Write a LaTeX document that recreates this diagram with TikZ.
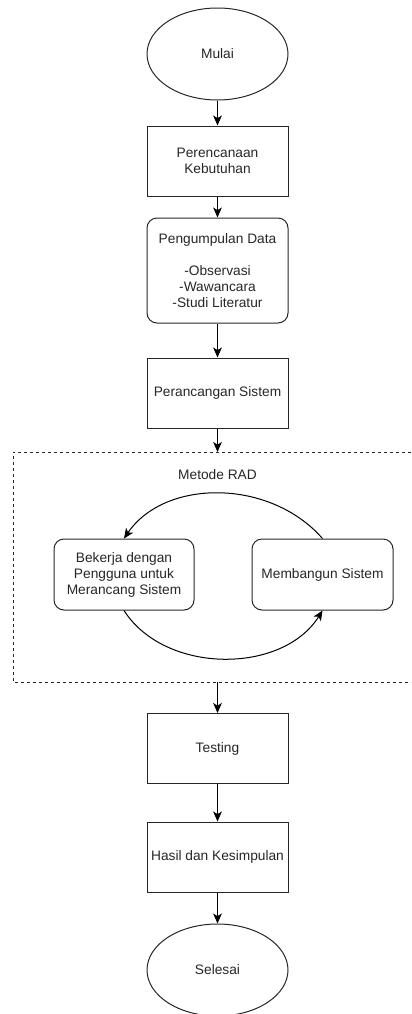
\documentclass[tikz,border=0pt]{standalone}
\usepackage{fontspec}
\setmainfont{Liberation Sans}
\usetikzlibrary{arrows.meta,shapes.geometric}
\begin{document}
\begin{tikzpicture}[x=0.75pt, y=-0.75pt, >={Stealth[length=7.5pt,width=6.5pt,inset=2pt]},
  every node/.style={font=\fontsize{10.3}{12}\selectfont, text=black!85, align=center},
  terminal/.style={draw=black!85, line width=0.75pt, ellipse, minimum width=105.75pt, minimum height=69pt, inner sep=0pt},
  process/.style={draw=black!85, line width=0.75pt, rectangle, minimum width=105.75pt, minimum height=52.5pt, inner sep=0pt},
  roundbox/.style={process, rounded corners=7.5pt},
  flow/.style={->, draw=black, line width=0.75pt}]
 \useasboundingbox (0,0) rectangle (411,1014);
 % alur utama
 \node[terminal] (mulai) at (217.5,54) {Mulai};
 \node[process] (kebutuhan) at (217.5,161) {Perencanaan\\Kebutuhan};
 \node[roundbox, minimum height=78.75pt] (data) at (217.5,270.5) {Pengumpulan Data\\[12pt]-Observasi\\-Wawancara\\-Studi Literatur};
 \node[process] (rancang) at (217.5,393) {Perancangan Sistem};
 \coordinate (radtop) at (217.5,452);
 \coordinate (radbot) at (217.5,682);
 \node[process] (testing) at (217.5,748.5) {Testing};
 \node[process] (hasil) at (217.5,857) {Hasil dan Kesimpulan};
 \node[terminal] (selesai) at (217.5,970) {Selesai};
 \draw[flow] (mulai) -- (kebutuhan);
 \draw[flow] (kebutuhan) -- (data);
 \draw[flow] (data) -- (rancang);
 \draw[flow] (rancang) -- (radtop);
 \draw[flow] (radbot) -- (testing);
 \draw[flow] (testing) -- (hasil);
 \draw[flow] (hasil) -- (selesai);
 % metode RAD
 \draw[black!85, line width=0.75pt, dash pattern=on 2.25pt off 2.25pt] (411,452) -- (13,452) -- (13,682) -- (411,682);
 \node (rad) at (217.5,475) {Metode RAD};
 \node[roundbox, minimum width=105pt, minimum height=53.25pt] (bekerja) at (124,574.5) {Bekerja dengan\\Pengguna untuk\\Merancang Sistem};
 \node[roundbox, minimum height=53.25pt] (bangun) at (322.5,574.5) {Membangun Sistem};
 \draw[flow] (bangun.north) .. controls +(-52.5,-60) and +(41,-60) .. (bekerja.north);
 \draw[flow] (bekerja.south) .. controls +(41,64) and +(-40,64) .. (bangun.south);
\end{tikzpicture}
\end{document}
